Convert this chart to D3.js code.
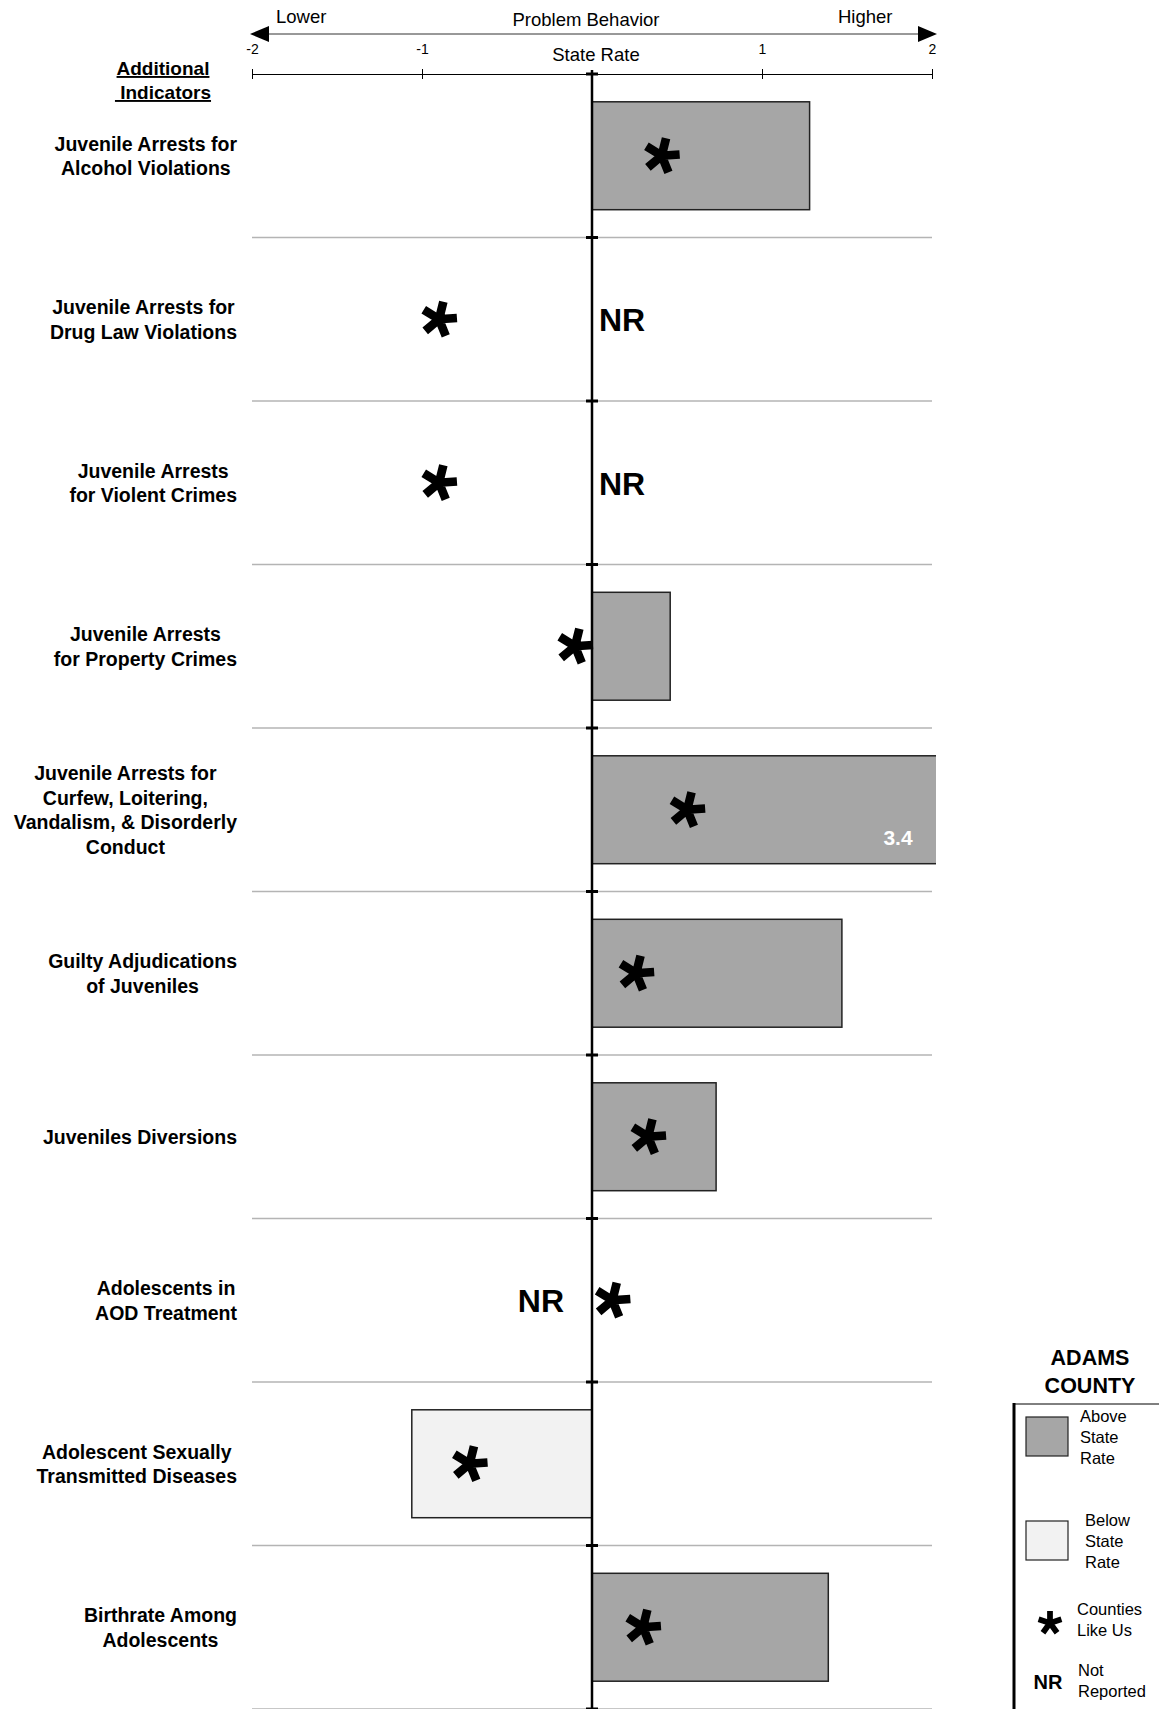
<!DOCTYPE html>
<html>
<head>
<meta charset="utf-8">
<script src="https://cdn.jsdelivr.net/npm/d3@7"></script>
<style>
  html, body { margin: 0; padding: 0; background: #fff; }
  svg { display: block; font-family: "Liberation Sans", Arial, sans-serif; }
</style>
</head>
<body>
<svg id="chart" width="1159" height="1709"></svg>
<script>
// ---- Data ----
const categories = [
  ["Juvenile Arrests for", "Alcohol Violations"],
  ["Juvenile Arrests for", "Drug Law Violations"],
  ["Juvenile Arrests", "for Violent Crimes"],
  ["Juvenile Arrests", "for Property Crimes"],
  ["Juvenile Arrests for", "Curfew, Loitering,", "Vandalism, & Disorderly", "Conduct"],
  ["Guilty Adjudications", "of Juveniles"],
  ["Juveniles Diversions"],
  ["Adolescents in", "AOD Treatment"],
  ["Adolescent Sexually", "Transmitted Diseases"],
  ["Birthrate Among", "Adolescents"]
];
// County value relative to state rate (null = Not Reported)
const countyValues = [1.28, null, null, 0.46, 3.4, 1.47, 0.73, null, -1.06, 1.39];
// "Counties Like Us" comparison values
const likeUsValues = [0.41, -0.90, -0.90, -0.10, 0.56, 0.26, 0.33, 0.12, -0.72, 0.30];
const tickValues = [-2, -1, 1, 2];
const tickLabels = ["-2", "-1", "1", "2"];
const axisTitle = "Problem Behavior";
const lowLabel = "Lower";
const highLabel = "Higher";
const zeroLabel = "State Rate";
const sectionTitle = ["Additional", " Indicators"];
const legendTitle = ["ADAMS", "COUNTY"];
const legendItems = [
  {kind: "above", lines: ["Above", "State", "Rate"]},
  {kind: "below", lines: ["Below", "State", "Rate"]},
  {kind: "star", lines: ["Counties", "Like Us"]},
  {kind: "nr", lines: ["Not", "Reported"]}
];

// ---- Layout ----
const W = 1159, H = 1709;
const axisY = 74;
const svg = d3.select("#chart");
svg.append("rect").attr("width", W).attr("height", H).attr("fill", "#fff");

const x = d3.scaleLinear().domain([-2, 2]).range([252, 932]);
const y = d3.scaleBand().domain(d3.range(categories.length)).range([axisY, 1709]);
const bw = y.bandwidth();
const barH = bw * 0.66;
const x0 = x(0);

const aboveFill = "#a6a6a6", belowFill = "#f2f2f2";

// five-armed asterisk symbol (one arm pointing right)
const asterisk5 = {
  draw(context, size) {
    const L = Math.sqrt(size);          // arm length
    const hw = L * 0.24;                // arm half-width
    for (let k = 0; k < 5; k++) {
      const a = k * 2 * Math.PI / 5;
      const c = Math.cos(a), s = Math.sin(a);
      const pts = [[-hw * 0.2, -hw], [L, -hw], [L, hw], [-hw * 0.2, hw]];
      pts.forEach((p, j) => {
        const px = p[0] * c - p[1] * s, py = p[0] * s + p[1] * c;
        if (j === 0) context.moveTo(px, py); else context.lineTo(px, py);
      });
      context.closePath();
    }
  }
};
const starPath = d3.symbol().type(asterisk5).size(18 * 18);
const starPathSmall = d3.symbol().type(asterisk5).size(12 * 12);

// gridlines
svg.append("g").selectAll("line").data(d3.range(categories.length)).join("line")
  .attr("x1", x(-2)).attr("x2", x(2))
  .attr("y1", d => y(d) + bw).attr("y2", d => y(d) + bw)
  .attr("stroke", "#b4b4b4").attr("stroke-width", 1.5);

// top arrow
const arrowY = 34;
svg.append("line").attr("x1", x(-2) + 14).attr("x2", x(2) - 14)
  .attr("y1", arrowY).attr("y2", arrowY).attr("stroke", "#333").attr("stroke-width", 1);
svg.append("path").attr("d", `M${x(-2) - 2},${arrowY} L${x(-2) + 17},${arrowY - 8} L${x(-2) + 17},${arrowY + 8} Z`).attr("fill", "#000");
svg.append("path").attr("d", `M${x(2) + 5},${arrowY} L${x(2) - 14},${arrowY - 8} L${x(2) - 14},${arrowY + 8} Z`).attr("fill", "#000");
svg.append("text").attr("x", 276).attr("y", 23).attr("font-size", 18.5).text(lowLabel);
svg.append("text").attr("x", 838).attr("y", 23).attr("font-size", 18.5).text(highLabel);
svg.append("text").attr("x", 586).attr("y", 26).attr("font-size", 18.5).attr("text-anchor", "middle").text(axisTitle);

// axis
const axis = d3.axisBottom(x).tickValues(tickValues)
  .tickFormat((d, i) => tickLabels[i]).tickSize(5).tickSizeOuter(0);
const ag = svg.append("g").attr("transform", `translate(0,${axisY})`).call(axis);
ag.select(".domain").attr("stroke", "#000").attr("stroke-width", 1);
ag.selectAll(".tick line").attr("y1", -5).attr("y2", 5).attr("stroke", "#000");
ag.selectAll(".tick text").attr("y", -20).attr("dy", 0).attr("font-size", 14)
  .attr("font-family", "Liberation Sans, Arial, sans-serif").attr("fill", "#000");
svg.append("text").attr("x", x0 + 4).attr("y", 61).attr("font-size", 18.5)
  .attr("text-anchor", "middle").text(zeroLabel);

// section title
const st = svg.append("text").attr("font-size", 19).attr("font-weight", "bold")
  .attr("text-anchor", "middle").attr("text-decoration", "underline");
sectionTitle.forEach((t, i) => st.append("tspan").attr("x", 163).attr("y", 75 + i * 24).attr("xml:space", "preserve").text(t));

// clip for bars
svg.append("clipPath").attr("id", "plotclip").append("rect")
  .attr("x", x(-2) - 2).attr("y", 0).attr("width", x(2) + 4 - (x(-2) - 2)).attr("height", H);

// bars
const bars = svg.append("g").attr("clip-path", "url(#plotclip)");
countyValues.forEach((v, i) => {
  if (v === null) return;
  const xa = x(Math.min(0, v)), xb = x(Math.max(0, v));
  bars.append("rect")
    .attr("x", xa).attr("y", y(i) + (bw - barH) / 2)
    .attr("width", xb - xa).attr("height", barH)
    .attr("fill", v >= 0 ? aboveFill : belowFill)
    .attr("stroke", "#222").attr("stroke-width", 1.5);
  if (v > 2) {
    svg.append("text").attr("x", x(1.8)).attr("y", y(i) + bw / 2 + barH / 2 - 19)
      .attr("text-anchor", "middle").attr("font-size", 21).attr("font-weight", "bold")
      .attr("fill", "#fff").text(d3.format(".1f")(v));
  }
});

// zero line + its ticks
svg.append("line").attr("x1", x0).attr("x2", x0).attr("y1", axisY - 4).attr("y2", H)
  .attr("stroke", "#000").attr("stroke-width", 2.5);
svg.append("g").selectAll("line").data([axisY].concat(d3.range(categories.length).map(i => y(i) + bw))).join("line")
  .attr("x1", x0 - 6).attr("x2", x0 + 6).attr("y1", d => d).attr("y2", d => d)
  .attr("stroke", "#000").attr("stroke-width", 3);

// NR markers
countyValues.forEach((v, i) => {
  if (v !== null) return;
  const left = likeUsValues[i] > 0;
  svg.append("text")
    .attr("x", left ? x0 - 28 : x0 + 7)
    .attr("y", y(i) + bw / 2 + 12)
    .attr("text-anchor", left ? "end" : "start")
    .attr("font-size", 32).attr("font-weight", "bold").text("NR");
});

// stars
svg.append("g").selectAll("path").data(likeUsValues).join("path")
  .attr("d", starPath())
  .attr("transform", (d, i) => `translate(${x(d)},${y(i) + bw / 2}) rotate(-4)`)
  .attr("fill", "#000");

// category labels
const labelRight = 237;
categories.forEach((lines, i) => {
  const g = svg.append("g");
  const n = lines.length, lh = 24.5;
  const cy = y(i) + bw / 2;
  const texts = lines.map((t, j) => g.append("text")
    .attr("y", cy + (j - (n - 1) / 2) * lh + 7)
    .attr("font-size", 19.5).attr("font-weight", "bold")
    .attr("text-anchor", "middle").text(t));
  const maxW = d3.max(texts, t => t.node().getComputedTextLength());
  texts.forEach(t => t.attr("x", labelRight - maxW / 2));
});

// legend
const lg = svg.append("g");
legendTitle.forEach((t, i) => lg.append("text").attr("x", 1090).attr("y", 1365 + i * 28)
  .attr("text-anchor", "middle").attr("font-size", 21.5).attr("font-weight", "bold").text(t));
lg.append("line").attr("x1", 1014).attr("x2", 1159).attr("y1", 1404).attr("y2", 1404)
  .attr("stroke", "#000").attr("stroke-width", 1);
lg.append("line").attr("x1", 1014).attr("x2", 1014).attr("y1", 1403).attr("y2", H)
  .attr("stroke", "#000").attr("stroke-width", 3);
const legendY = [1437, 1541, 1619, 1680];
legendItems.forEach((it, k) => {
  const cy = legendY[k];
  let tx = 1080;
  if (it.kind === "above" || it.kind === "below") {
    lg.append("rect").attr("x", 1026).attr("y", cy - 20).attr("width", 42).attr("height", 39)
      .attr("fill", it.kind === "above" ? aboveFill : belowFill)
      .attr("stroke", "#222").attr("stroke-width", 1.2);
    if (it.kind === "below") tx = 1085;
  } else if (it.kind === "star") {
    lg.append("path").attr("d", starPathSmall()).attr("transform", `translate(1050,${cy + 4}) rotate(-90)`)
      .attr("fill", "#000");
    tx = 1077;
  } else {
    lg.append("text").attr("x", 1048).attr("y", cy + 9).attr("text-anchor", "middle")
      .attr("font-size", 20).attr("font-weight", "bold").text("NR");
    tx = 1078;
  }
  const n = it.lines.length, lh = 21;
  it.lines.forEach((t, j) => lg.append("text").attr("x", tx)
    .attr("y", cy + (j - (n - 1) / 2) * lh + 6).attr("font-size", 16.5).text(t));
});
</script>
</body>
</html>
